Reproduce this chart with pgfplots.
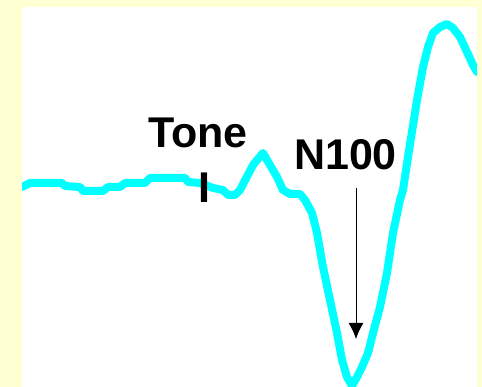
\documentclass[border=0pt]{standalone}
\usepackage{pgfplots}
\pgfplotsset{compat=1.18}
\usetikzlibrary{arrows.meta}
\usepackage{fontspec}
\setmainfont{Liberation Sans}
\definecolor{cream}{RGB}{255,255,212}
\definecolor{eegcyan}{RGB}{0,255,255}
\begin{document}
\begin{tikzpicture}
\fill[cream] (0pt,0pt) rectangle (482pt,387pt);
\useasboundingbox (0pt,0pt) rectangle (482pt,387pt);
\begin{axis}[
  at={(22pt,0pt)}, anchor=south west,
  width=455pt, height=380pt, scale only axis,
  xmin=22, xmax=477, ymin=0, ymax=380,
  axis lines=none, ticks=none,
  axis background/.style={fill=white},
  clip=true,
]
\addplot[eegcyan, line width=8pt, line join=round, line cap=round] coordinates {
(22,200) (30,204) (62,204) (65,201) (80,200) (83,196) (103,196) (108,200)
(120,200) (125,204) (145,204) (150,209) (185,209) (188,205) (200,204)
(213,199) (223,197) (228,192) (235,192) (240,197) (253,222) (263,234)
(277,210) (283,197) (290,193) (300,193) (305,187) (312,174) (317,154)
(323,120) (330,87) (337,54) (342,27) (347,10) (352,1) (357,10) (362,20)
(368,34) (373,54) (380,80) (387,114) (393,154) (400,187) (403,197)
(408,230) (417,287) (423,320) (428,340) (433,354) (440,360) (447,363)
(453,359) (460,350) (467,335) (473,322) (477,315)
};
\node[anchor=base, inner sep=0pt, font=\fontsize{43}{43}\selectfont\bfseries] at (axis cs:198,239) {Tone};
\node[anchor=base, inner sep=0pt, font=\fontsize{43}{43}\selectfont\bfseries] at (axis cs:204,184) {I};
\node[anchor=base, inner sep=0pt, font=\fontsize{43}{43}\selectfont\bfseries] at (axis cs:345.5,217) {N100};
\draw[black, line width=1pt, -{Latex[length=16pt,width=15pt]}] (axis cs:356,199) -- (axis cs:356,48);
\end{axis}
\end{tikzpicture}
\end{document}
